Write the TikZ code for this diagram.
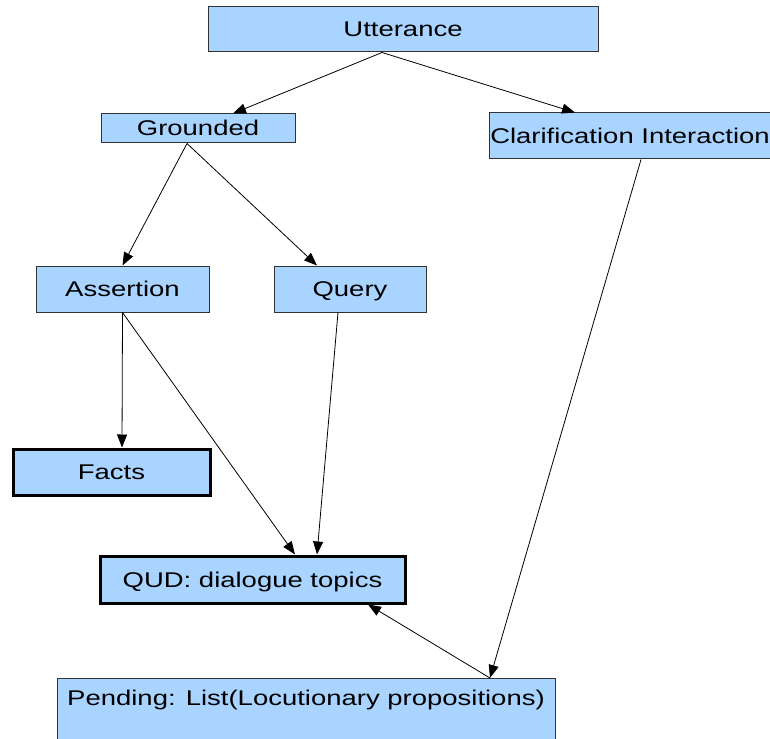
\documentclass[tikz,border=0pt]{standalone}
\usepackage{fontspec}
\setmainfont{Liberation Sans}[FakeStretch=1.29]
\usetikzlibrary{arrows.meta}
\definecolor{boxblue}{RGB}{168,212,255}
\definecolor{boxline}{RGB}{50,50,50}
\tikzset{
  box/.style={draw=boxline, line width=1pt, fill=boxblue, inner sep=0pt,
    text height=15pt, text depth=0pt, font=\fontsize{21.3}{24}\selectfont},
  thickbox/.style={box, draw=black, line width=3pt},
  conn/.style={draw=black, line width=0.8pt, -{Triangle[length=13pt,width=10pt]}}
}
\begin{document}
\begin{tikzpicture}[x=1pt,y=-1pt]
\useasboundingbox (0,0) rectangle (770,738);
\node[box, minimum width=390pt, minimum height=45pt] (utt) at (403,29.5) {Utterance};
\node[box, minimum width=194pt, minimum height=29pt] (gro) at (198,128.5) {Grounded};
\node[box, minimum width=282pt, minimum height=46pt] (cla) at (630,136) {Clarification Interaction};
\node[box, minimum width=173pt, minimum height=46pt] (ass) at (122.5,289) {Assertion};
\node[box, minimum width=152pt, minimum height=46pt] (que) at (350,289) {Query};
\node[thickbox, minimum width=197pt, minimum height=46pt] (fac) at (111.5,472) {Facts};
\node[thickbox, minimum width=305pt, minimum height=47pt] (qud) at (252.5,579.5) {QUD: dialogue topics};
\node[box, minimum width=498pt, anchor=north, inner ysep=8pt, text height=19pt, text depth=50pt] (pen) at (306,678) {Pending: List(Locutionary propositions)};

\draw[conn] ([xshift=-21pt]utt.south) -- ([xshift=35pt]gro.north);
\draw[conn] ([xshift=-21pt]utt.south) -- ([xshift=-55pt]cla.north);
\draw[conn] ([xshift=-11pt]gro.south) -- ([xshift=0pt]ass.north);
\draw[conn] ([xshift=-11pt]gro.south) -- ([xshift=-33pt]que.north);
\draw[conn] ([xshift=0pt]ass.south) -- ([xshift=10.5pt]fac.north);
\draw[conn] ([xshift=0pt]ass.south) -- ([xshift=42.5pt]qud.north);
\draw[conn] ([xshift=-12pt]que.south) -- ([xshift=64.5pt]qud.north);
\draw[conn] ([xshift=11pt]cla.south) -- ([xshift=184pt]pen.north);
\draw[conn] ([xshift=184pt]pen.north) -- ([xshift=115.5pt]qud.south);
\end{tikzpicture}
\end{document}
